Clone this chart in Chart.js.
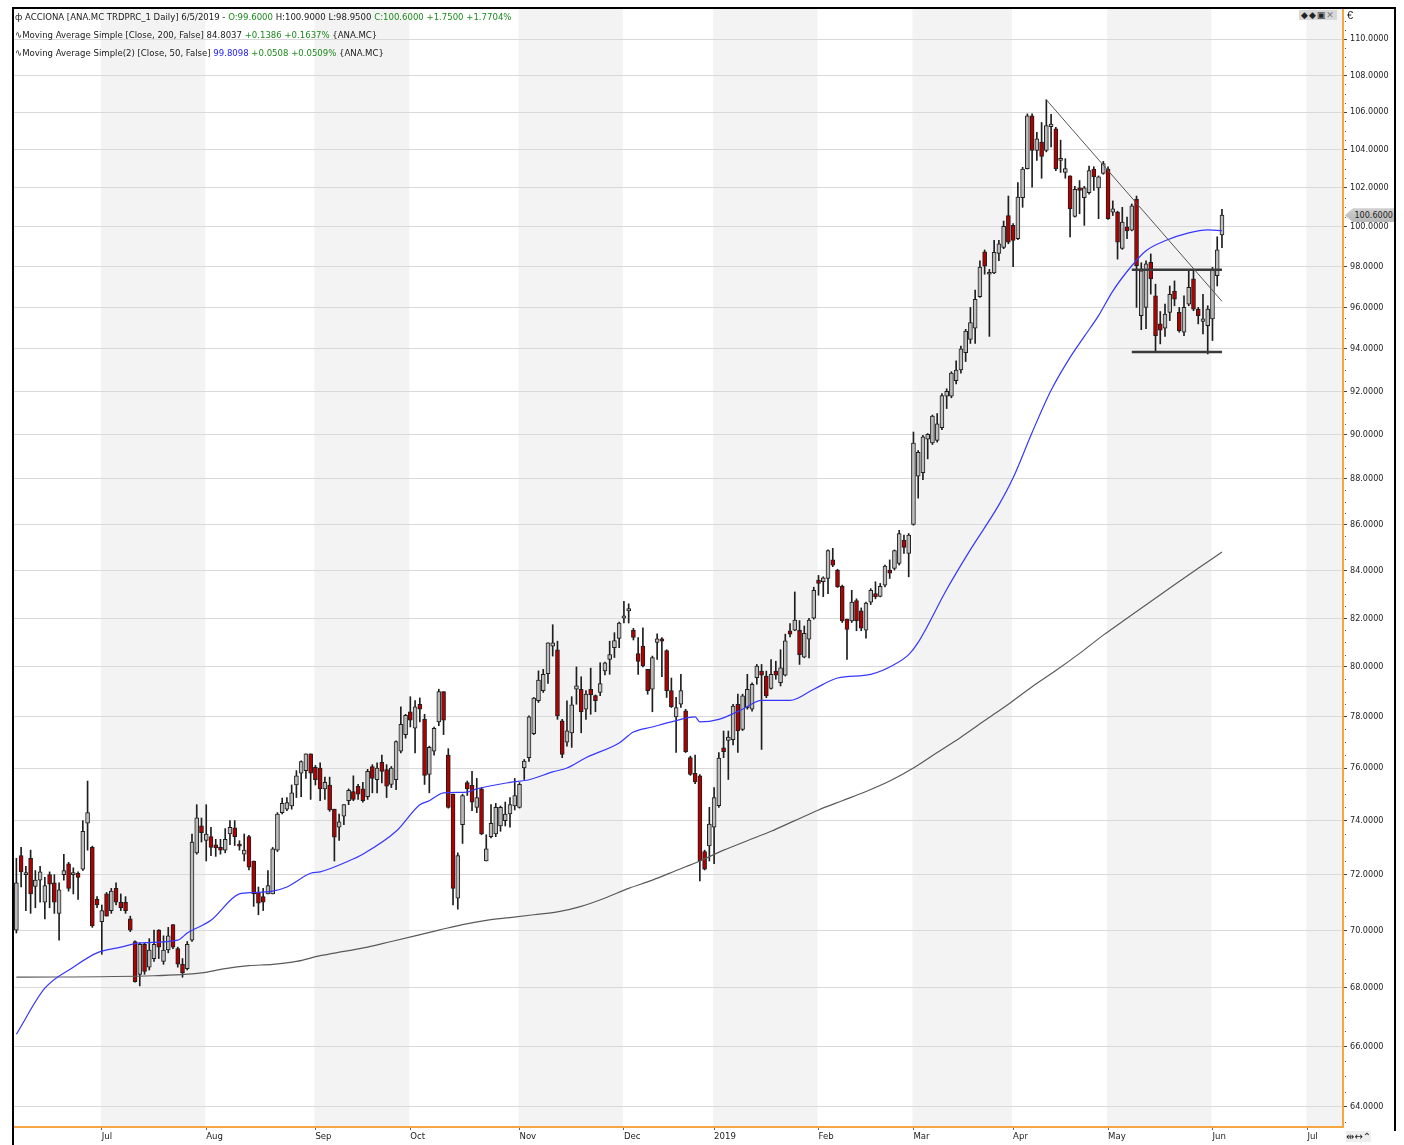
<!DOCTYPE html>
<html>
<head>
<meta charset="utf-8">
<script src="https://cdn.jsdelivr.net/npm/chart.js@4.4.1/dist/chart.umd.min.js"></script>
<style>
html,body{margin:0;padding:0;background:#fff;}
#wrap{position:relative;width:1404px;height:1145px;overflow:hidden;background:#fff;}
#c{position:absolute;left:0;top:0;}
.hdr{position:absolute;left:15px;font:9.5px "DejaVu Sans Condensed","Liberation Sans",sans-serif;color:#1a1a1a;white-space:nowrap;line-height:12px;}
.g{color:#1d8a1d}.b{color:#2020ff}
.frameL{position:absolute;left:12px;top:7px;width:2px;height:1138px;background:#000;}
.frameT{position:absolute;left:12px;top:7px;width:1384px;height:2px;background:#000;}
.frameR{position:absolute;left:1394px;top:7px;width:2px;height:1124px;background:#000;}
#tag{position:absolute;left:1345px;width:48px;height:14px;font:9px "DejaVu Sans Condensed",sans-serif;color:#222;line-height:14px;text-align:right;padding-right:1px;}
.icons{position:absolute;font:9px "DejaVu Sans",sans-serif;color:#222;}
</style>
</head>
<body>
<div id="wrap">
<canvas id="c" width="1404" height="1145"></canvas>
<div class="frameL"></div><div class="frameT"></div><div class="frameR"></div>
<div class="hdr" style="top:11px">ф ACCIONA [ANA.MC TRDPRC_1 Daily] 6/5/2019 - <span class="g">O:99.6000</span> H:100.9000 L:98.9500 <span class="g">C:100.6000 +1.7500 +1.7704%</span></div>
<div class="hdr" style="top:29px">∿Moving Average Simple [Close, 200, False] 84.8037 <span class="g">+0.1386 +0.1637%</span> {ANA.MC}</div>
<div class="hdr" style="top:47px">∿Moving Average Simple(2) [Close, 50, False] <span class="b">99.8098</span> <span class="g">+0.0508 +0.0509%</span> {ANA.MC}</div>
<div class="icons" style="left:1299px;top:10px;background:#d8d8d8;padding:0 2px;letter-spacing:1px;">◆◆▣<span style="color:#777">✕</span></div>
<div class="icons" style="left:1347px;top:9px;font:11px 'Liberation Sans',sans-serif;">€</div>
<div class="icons" style="left:1346px;top:1131px;font:10px 'DejaVu Sans',sans-serif;background:#eee;">⇹↔⌃</div>
<div id="tag">100.6000</div>
</div>
<script>
// ---------- DATA ----------
const START_DATE = '2018-06-06';
const END_DATE = '2019-07-10';
const HOLIDAYS = ['2018-12-25','2018-12-26','2019-01-01','2019-04-19','2019-04-22','2019-05-01'];
const MONTH_NAMES = ['2019','Feb','Mar','Apr','May','Jun','Jul','Aug','Sep','Oct','Nov','Dec'];

const open = [
70.0,72.7,72.0,72.6,71.57,71.8,71.0,72.0,71.7,70.6,
72.0,72.4,72.0,72.05,72.2,73.9,73.0,71.1,70.3,71.3,
70.7,71.5,71.0,71.0,70.4,69.6,68.45,69.5,68.7,69.0,
70.0,68.9,69.3,70.2,69.35,68.8,68.65,69.65,72.8,73.8,
73.26,73.4,73.1,73.0,72.9,73.5,73.73,73.1,72.75,73.4,
72.5,71.35,71.2,71.3,71.3,72.9,74.3,74.43,74.55,75.35,
75.8,75.9,76.55,76.03,76.0,75.2,75.35,74.43,73.75,74.17,
74.75,75.1,75.3,75.2,74.9,76.06,75.55,76.22,75.94,75.37,
75.55,76.65,77.3,78.2,77.55,78.5,77.9,75.75,76.65,77.8,
79.0,76.5,75.0,71.15,73.85,75.44,75.34,74.5,75.2,72.5,
73.4,73.5,73.8,74.0,74.25,74.55,74.5,76.0,76.4,77.34,
78.64,79.04,79.73,80.85,80.7,77.84,77.0,77.37,79.1,79.1,
78.3,79.1,78.84,78.97,79.84,80.3,80.78,81.16,82.0,82.3,
81.5,80.54,80.85,79.9,79.1,81.0,81.15,80.67,79.04,78.0,
78.5,78.24,76.4,75.8,75.7,72.85,73.06,73.75,74.56,76.78,
77.07,77.1,78.5,77.5,78.36,78.3,79.56,79.83,79.63,79.13,
79.83,79.36,79.67,81.48,81.5,81.5,80.4,81.13,82.0,83.6,
83.53,83.67,84.46,84.03,83.34,81.96,81.89,82.74,82.31,81.5,
82.67,83.03,82.91,83.39,84.03,84.1,84.31,85.31,84.74,86.0,
88.12,88.28,89.8,89.62,89.74,90.32,91.77,91.77,92.5,93.0,
93.82,94.46,95.0,96.52,98.75,97.63,97.7,98.67,98.97,100.58,
100.08,99.4,101.5,103.0,105.8,103.96,104.4,103.96,105.22,105.1,
103.43,102.8,102.62,100.53,102.0,101.5,101.75,102.98,102.0,102.75,
102.98,100.75,100.75,98.92,100.0,99.83,101.42,95.6,96.0,98.22,
96.56,95.2,95.0,95.76,96.8,95.76,94.8,96.16,97.4,95.92,
95.32,95.12,95.44,97.56,99.6];

const high = [
72.6,73.0,72.3,72.9,72.15,72.3,71.9,72.1,72.0,71.7,
72.75,72.45,72.25,72.1,74.0,75.5,73.05,71.2,70.9,71.35,
71.5,71.7,71.3,71.2,70.5,69.62,69.55,69.55,69.7,70.0,
70.02,69.8,70.1,70.2,69.4,69.0,69.6,73.5,74.6,74.1,
74.6,73.75,73.3,73.3,73.7,74.0,74.0,73.25,73.5,73.45,
72.5,71.55,71.5,72.15,73.0,74.3,74.85,74.87,75.35,75.9,
76.28,76.55,76.55,76.1,76.2,75.65,75.65,74.43,74.25,74.6,
75.2,75.7,75.37,75.45,75.95,76.13,76.2,76.5,76.13,76.06,
77.06,78.4,78.1,78.8,78.65,78.75,78.1,76.85,77.6,79.1,
79.0,76.75,75.0,72.8,75.0,75.5,75.87,75.6,75.25,73.47,
74.6,74.65,74.55,74.7,74.87,75.6,75.44,76.33,78.04,78.77,
79.84,79.9,80.98,81.73,81.05,77.9,78.64,78.8,80.0,79.6,
79.04,79.95,78.87,80.17,80.2,81.05,81.4,81.84,82.7,82.6,
81.58,81.2,81.6,79.9,80.44,81.35,81.2,80.7,79.55,78.77,
79.7,78.3,76.46,76.5,75.75,72.9,74.5,75.25,76.6,77.44,
77.44,78.5,78.9,78.9,79.7,79.36,80.1,80.1,79.83,80.3,
80.23,80.7,81.34,81.78,83.1,81.9,81.68,82.0,83.3,83.8,
83.74,84.89,84.96,84.06,83.39,81.96,83.17,82.81,82.43,82.67,
83.24,83.53,83.46,84.24,84.46,84.89,85.74,85.53,85.6,90.12,
89.28,89.97,90.05,90.9,90.97,91.9,92.12,92.92,93.43,94.13,
94.94,96.0,96.85,98.3,98.84,97.87,99.32,99.32,100.3,101.58,
100.17,102.27,103.07,105.9,105.9,104.92,105.44,106.66,105.88,105.18,
104.5,103.52,102.62,102.08,102.38,102.08,103.14,103.1,102.62,103.38,
103.1,101.33,100.8,101.0,100.5,101.17,101.58,98.2,98.3,98.64,
97.14,95.8,96.16,97.05,97.3,96.0,96.56,97.8,97.84,96.0,
96.64,96.08,97.97,99.5,100.9];

const low = [
69.9,71.55,70.7,70.6,70.8,71.0,70.4,70.8,70.6,69.65,
71.8,71.4,71.3,71.1,72.15,72.9,70.1,70.8,69.15,70.5,
70.6,70.9,70.7,70.6,69.95,68.18,68.05,68.45,68.6,68.9,
69.0,68.8,69.2,69.35,68.7,68.35,68.6,69.6,72.75,73.2,
72.5,72.7,72.67,72.75,72.8,73.1,73.07,72.9,72.5,72.17,
70.85,70.55,70.7,71.3,71.3,72.85,74.25,74.37,74.43,74.87,
74.9,75.6,74.8,75.35,74.75,74.8,74.35,72.5,73.26,73.85,
74.6,74.75,74.8,74.7,74.8,75.05,75.05,75.43,74.87,75.25,
75.17,76.58,77.16,77.6,76.58,77.8,75.37,75.05,76.5,77.65,
77.3,74.47,70.9,70.75,73.15,74.95,74.37,74.3,73.47,72.5,
73.35,73.4,73.6,73.8,73.75,74.4,74.47,75.56,76.26,77.3,
78.57,78.97,79.33,80.44,77.9,76.4,76.85,76.8,78.5,77.37,
77.9,78.1,78.2,78.84,79.68,79.7,80.38,80.78,81.8,81.8,
81.1,79.7,80.0,78.9,78.2,80.3,79.6,78.77,78.37,76.6,
78.37,76.6,75.72,75.4,71.77,72.17,72.5,72.4,74.5,76.4,
75.56,76.9,76.6,77.46,78.3,78.22,79.3,76.72,78.76,79.1,
79.5,79.23,79.63,81.23,81.48,80.1,80.37,80.37,81.96,82.96,
82.9,83.03,84.17,83.29,81.82,80.3,81.82,81.48,81.48,81.17,
82.57,82.81,82.89,83.31,83.67,84.03,84.24,84.74,83.74,85.96,
87.15,87.97,88.9,89.55,89.66,90.23,91.2,91.7,92.35,92.85,
93.4,94.26,94.26,96.49,97.63,94.6,97.66,98.3,98.9,99.15,
98.0,99.35,101.0,102.98,102.04,103.43,102.5,103.88,104.14,102.9,
102.8,102.5,99.49,100.5,100.67,100.08,101.67,101.87,100.42,102.71,
100.38,100.58,98.38,98.87,99.4,99.8,96.0,94.92,94.97,96.65,
93.84,94.24,94.6,95.36,96.08,94.8,94.64,96.08,95.84,95.2,
94.72,93.76,94.4,97.05,98.95];

const close = [
71.7,72.1,72.05,71.3,71.8,72.1,71.6,71.65,71.0,71.45,
72.15,71.5,72.05,71.9,73.6,74.3,70.15,70.9,70.7,70.5,
71.4,71.0,70.8,70.7,70.0,68.2,69.5,68.55,69.3,69.5,
69.4,69.3,69.8,69.4,68.8,68.5,69.5,73.2,74.1,73.55,
73.5,73.0,72.98,72.9,73.3,73.75,73.4,73.05,72.9,72.27,
71.3,70.97,71.0,71.6,72.95,74.25,74.65,74.68,75.05,75.7,
76.25,76.55,75.8,75.55,75.2,75.45,74.4,73.38,73.95,74.6,
75.15,74.8,75.0,74.75,75.87,75.6,76.0,75.87,75.3,76.0,
77.03,77.7,78.06,77.87,78.4,78.3,75.72,76.8,77.55,79.0,
77.87,74.5,71.5,72.7,74.95,75.2,74.7,74.87,73.5,72.95,
73.9,74.5,74.5,74.25,74.6,74.95,75.37,76.27,78.0,78.74,
79.47,79.7,80.98,80.98,78.04,76.53,77.45,78.48,79.24,78.2,
78.9,78.87,78.64,79.33,80.17,80.5,81.08,81.8,82.1,82.4,
81.2,80.22,80.04,79.04,80.38,81.15,81.05,79.04,78.4,78.37,
79.04,76.63,75.75,75.47,72.5,72.2,73.87,74.87,76.38,76.63,
77.2,78.43,77.44,78.83,79.1,79.3,80.03,79.67,78.83,79.7,
79.67,79.96,81.06,81.34,81.92,80.5,81.37,81.92,83.17,83.46,
83.7,84.86,84.24,83.31,81.89,81.54,82.67,81.89,81.59,82.63,
83.17,82.89,83.34,84.2,83.89,84.86,85.6,85.0,85.53,89.62,
89.2,89.9,90.02,90.85,90.5,91.8,92.0,92.85,93.0,94.0,
94.86,95.27,96.4,97.98,98.03,97.7,98.72,99.15,100.03,99.23,
99.32,101.53,102.98,105.8,103.96,104.57,103.64,105.27,105.36,102.98,
103.52,103.0,100.92,101.92,101.87,102.0,102.9,102.57,102.57,103.27,
100.42,100.92,99.23,100.25,99.8,101.08,98.05,97.8,98.14,97.4,
94.64,94.9,95.68,96.64,96.4,94.88,96.0,96.98,95.92,95.6,
95.44,95.92,97.84,98.85,100.6];

// Moving averages at sample candles (index, value)
const ma50Idx = [0,6,12,17,22,26,34,36,41,47,50,54,57,62,64,70,73,80,85,87,90,95,97,104,108,113,116,120,127,130,134,138,143,144,148,153,157,163,168,173,180,185,188,190,196,201,207,210,214,218,222,225,228,231,235,238,242,247,251,254];
const ma50Val = [66.4,67.97,68.7,69.2,69.4,69.55,69.65,69.9,70.35,71.3,71.35,71.4,71.55,72.05,72.1,72.5,72.75,73.6,74.6,74.75,75.05,75.08,75.2,75.45,75.55,75.85,76.0,76.4,76.97,77.4,77.6,77.8,78.0,77.8,77.9,78.3,78.65,78.65,79.1,79.55,79.7,80.1,80.5,81.0,83.2,84.9,86.85,88.05,90.1,92.05,93.6,94.6,95.6,96.8,98.05,98.8,99.3,99.7,99.85,99.81];
const ma200Idx = [0,29,39,44,49,54,59,64,69,74,79,84,89,94,99,104,109,114,119,124,129,134,139,144,149,154,159,164,169,174,179,184,189,194,199,204,209,214,219,224,229,234,239,244,249,254];
const ma200Val = [68.35,68.4,68.5,68.65,68.75,68.8,68.9,69.1,69.25,69.4,69.6,69.8,70.0,70.2,70.35,70.45,70.55,70.65,70.85,71.15,71.5,71.8,72.15,72.5,72.9,73.25,73.6,74.0,74.4,74.75,75.1,75.5,76.0,76.6,77.2,77.85,78.5,79.2,79.85,80.55,81.3,82.0,82.7,83.4,84.1,84.8];

// Drawn studies: trend line and box lines (index, value)
const trendIdx = [217, 254];
const trendVal = [106.66, 96.3];
const boxTopIdx = [235, 254];
const boxTopVal = [97.85, 97.85];
const boxBotIdx = [235, 254];
const boxBotVal = [93.85, 93.85];

const yTicks = [64,66,68,70,72,74,76,78,80,82,84,86,88,90,92,94,96,98,100,102,104,106,108,110];
const Y_MIN = 63.35, Y_MAX = 111.63;
const LAST_PRICE = 100.6;

// ---------- CATEGORIES (trading calendar) ----------
function tradingDays(from, to, hol) {
  const out = [];
  const d = new Date(from + 'T00:00:00Z');
  const end = new Date(to + 'T00:00:00Z');
  while (d <= end) {
    const wd = d.getUTCDay();
    const s = d.toISOString().slice(0, 10);
    if (wd !== 0 && wd !== 6 && hol.indexOf(s) < 0) out.push(s);
    d.setUTCDate(d.getUTCDate() + 1);
  }
  return out;
}
const dates = tradingDays(START_DATE, END_DATE, HOLIDAYS);
const monthLabel = dates.map((s, i) => {
  if (i === 0) return '';
  if (s.slice(0, 7) === dates[i - 1].slice(0, 7)) return '';
  return MONTH_NAMES[parseInt(s.slice(5, 7), 10) - 1];
});
const monthStarts = [];
monthLabel.forEach((m, i) => { if (m) monthStarts.push(i); });

function sparse(idx, val) {
  const arr = new Array(dates.length).fill(null);
  idx.forEach((k, j) => { arr[k] = val[j]; });
  return arr;
}

const FONT = '"DejaVu Sans Condensed","Liberation Sans",sans-serif';

const bandPlugin = {
  id: 'bands',
  beforeDraw(chart) {
    const { ctx, chartArea, scales } = chart;
    const x = scales.x;
    ctx.save();
    ctx.fillStyle = '#f3f3f3';
    for (let j = 0; j < monthStarts.length; j += 2) {
      const a = x.getPixelForValue(monthStarts[j]) - 1;
      const b = j + 1 < monthStarts.length ? x.getPixelForValue(monthStarts[j + 1]) - 1 : chartArea.right;
      ctx.fillRect(a, 8, Math.min(b, chartArea.right) - a, chartArea.bottom - 8);
    }
    ctx.restore();
  },
  afterDraw(chart) {
    const { ctx, chartArea, scales } = chart;
    const y = scales.y;
    ctx.save();
    ctx.fillStyle = '#555';
    for (let v = 63.5; v < 111.5; v += 0.5) {
      if (Math.abs(v - Math.round(v / 2) * 2) < 0.01) continue;
      const py = Math.round(y.getPixelForValue(v));
      ctx.fillRect(chartArea.right + 2, py, 1, 1);
    }
    ctx.restore();
  }
};

const bodyColors = open.map((o, i) => close[i] >= o ? '#bcbcbc' : '#b00000');

const chart = new Chart(document.getElementById('c'), {
  type: 'bar',
  data: {
    labels: dates,
    datasets: [
      { type: 'line', label: 'Trend', data: sparse(trendIdx, trendVal), borderColor: '#555', borderWidth: 1, pointRadius: 0, spanGaps: true, order: 0 },
      { type: 'line', label: 'BoxTop', data: sparse(boxTopIdx, boxTopVal), borderColor: '#3a3a3a', borderWidth: 2.5, pointRadius: 0, spanGaps: true, order: 0 },
      { type: 'line', label: 'BoxBot', data: sparse(boxBotIdx, boxBotVal), borderColor: '#3a3a3a', borderWidth: 2.5, pointRadius: 0, spanGaps: true, order: 0 },
      { type: 'line', label: 'SMA50', data: sparse(ma50Idx, ma50Val), borderColor: '#3636ff', borderWidth: 1.2, pointRadius: 0, spanGaps: true, cubicInterpolationMode: 'monotone', order: 1 },
      { type: 'line', label: 'SMA200', data: sparse(ma200Idx, ma200Val), borderColor: '#5a5a5a', borderWidth: 1.2, pointRadius: 0, spanGaps: true, cubicInterpolationMode: 'monotone', order: 1 },
      { type: 'bar', label: 'Body', data: open.map((o, i) => [o, close[i]]), backgroundColor: bodyColors, borderColor: '#1e1e1e', borderWidth: 1, borderSkipped: false, barThickness: 4, minBarLength: 2, grouped: false, order: 2 },
      { type: 'bar', label: 'Wick', data: low.map((l, i) => [l, high[i]]), backgroundColor: '#1e1e1e', borderWidth: 0, barThickness: 1, grouped: false, order: 3 }
    ]
  },
  options: {
    responsive: false,
    animation: false,
    devicePixelRatio: 1,
    layout: { padding: { left: 14, top: 10, right: 0, bottom: 0 } },
    plugins: { legend: { display: false }, tooltip: { enabled: false } },
    scales: {
      x: {
        type: 'category',
        offset: true,
        afterFit: s => { s.height = 18; },
        grid: { display: true, drawOnChartArea: false, drawTicks: true, tickLength: 3, offset: false,
                color: c => monthLabel[c.index] ? '#666' : 'rgba(0,0,0,0)' },
        border: { display: true, color: '#f5a640', width: 2 },
        ticks: { autoSkip: false, maxRotation: 0, minRotation: 0, align: 'start', padding: 1,
                 color: '#222', font: { family: FONT, size: 9.5 },
                 callback: (v, i) => monthLabel[i] }
      },
      y: {
        type: 'logarithmic',
        position: 'right',
        min: Y_MIN, max: Y_MAX,
        afterBuildTicks: s => { s.ticks = yTicks.map(v => ({ value: v })); },
        afterFit: s => { s.width = 61; },
        grid: { color: '#d9d9d9', lineWidth: 1, drawTicks: true, tickLength: 4, tickColor: '#444' },
        border: { display: true, color: '#f5a640', width: 2 },
        ticks: { autoSkip: false, padding: 3, color: '#222', font: { family: FONT, size: 9 },
                 callback: v => Number(v).toFixed(4) }
      }
    }
  },
  plugins: [bandPlugin]
});

const tag = document.getElementById('tag');
tag.style.top = (chart.scales.y.getPixelForValue(LAST_PRICE) - 7) + 'px';
tag.style.background = 'linear-gradient(#d0d0d0,#b8b8b8)';
tag.style.clipPath = 'polygon(0 50%, 8px 0, 100% 0, 100% 100%, 8px 100%)';
</script>
</body>
</html>
